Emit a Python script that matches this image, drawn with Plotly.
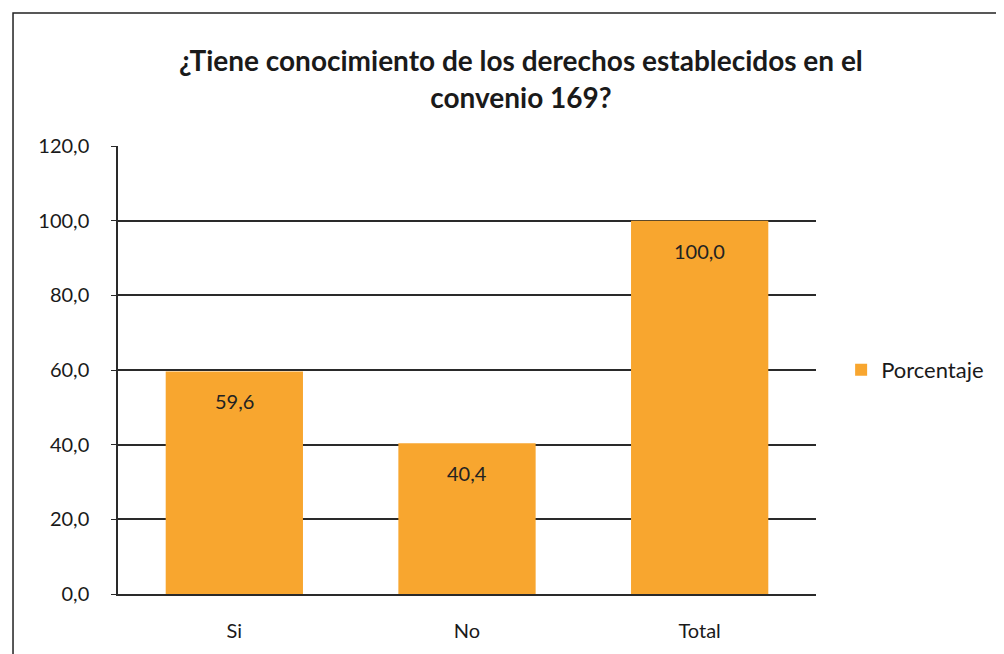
import plotly.graph_objects as go

categories = ["Si", "No", "Total"]
porcentaje = [59.6, 40.4, 100.0]
y_ticks = [0, 20, 40, 60, 80, 100, 120]

FONT = "Lato, Open Sans, sans-serif"

fig = go.Figure()
fig.add_trace(go.Bar(
    x=categories,
    y=porcentaje,
    name="Porcentaje",
    marker=dict(color="#F8A62F", line=dict(width=0)),
    width=0.59,
    showlegend=True,
))

annotations = [
    dict(x=c, y=v, xref="x", yref="y", text=f"{v:.1f}".replace(".", ","),
         showarrow=False, yshift=-30, yanchor="middle",
         font=dict(family=FONT, size=20, color="#222222"))
    for c, v in zip(categories, porcentaje)
]

fig.update_layout(
    width=996,
    height=646,
    separators=",.",
    paper_bgcolor="white",
    plot_bgcolor="white",
    margin=dict(l=110, r=188, t=138, b=60),
    title=dict(
        text="<b>¿Tiene conocimiento de los derechos establecidos en el<br>convenio 169?</b>",
        x=0.515, xanchor="center",
        y=0.902, yanchor="middle",
        font=dict(family=FONT, size=28, color="#1a1a1a"),
    ),
    font=dict(family=FONT, size=20, color="#1a1a1a"),
    legend=dict(
        x=1.036, y=0.5, xanchor="left", yanchor="middle",
        font=dict(size=22),
    ),
    annotations=annotations,
    shapes=[dict(
        type="rect", xref="paper", yref="paper",
        x0=-0.1504, x1=1.35, y0=-0.25, y1=1.297,
        line=dict(color="#222222", width=1.5), fillcolor="rgba(0,0,0,0)", layer="below",
    )],
)

fig.update_yaxes(
    range=[0, 120],
    tickvals=y_ticks,
    tickformat=".1f",
    showgrid=True, gridcolor="#2a2a2a", gridwidth=1.5,
    showline=True, linecolor="#2a2a2a", linewidth=1.5,
    ticks="outside", ticklen=5, tickcolor="#2a2a2a",
    ticklabelstandoff=18,
    zeroline=False,
    tickfont=dict(size=20),
)
fig.update_xaxes(
    showline=True, linecolor="#2a2a2a", linewidth=1.5,
    ticks="", tickfont=dict(size=20),
    ticklabelstandoff=18,
)

fig.write_html("out.html")
